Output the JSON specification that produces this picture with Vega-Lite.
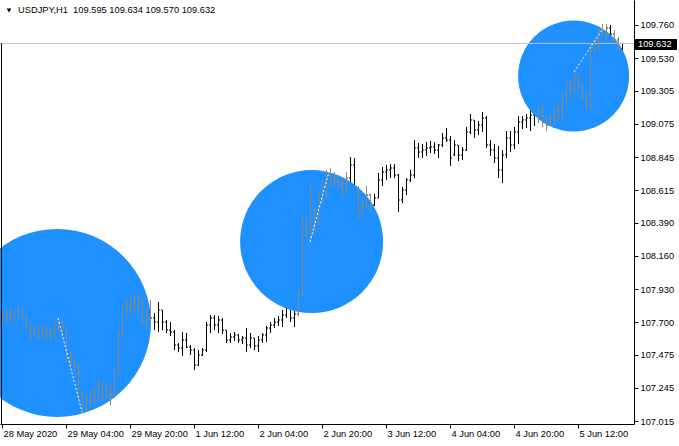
{
  "$schema": "https://vega.github.io/schema/vega-lite/v6.json",
  "width": 634,
  "height": 424,
  "autosize": "none",
  "padding": {"left": 0, "top": 0, "right": 45, "bottom": 22},
  "background": "white",
  "config": {"view": {"stroke": null}, "font": "Liberation Sans",
    "axis": {"labelOverlap": false, "labelSeparation": 0}},
  "datasets": {
    "ohlc": [
      {"i":0,"o":107.715,"h":107.771,"l":107.681,"c":107.750},
      {"i":1,"o":107.750,"h":107.785,"l":107.702,"c":107.729},
      {"i":2,"o":107.729,"h":107.799,"l":107.715,"c":107.771},
      {"i":3,"o":107.771,"h":107.771,"l":107.702,"c":107.729},
      {"i":4,"o":107.729,"h":107.812,"l":107.729,"c":107.785},
      {"i":5,"o":107.785,"h":107.799,"l":107.715,"c":107.729},
      {"i":6,"o":107.729,"h":107.743,"l":107.646,"c":107.660},
      {"i":7,"o":107.660,"h":107.702,"l":107.577,"c":107.611},
      {"i":8,"o":107.611,"h":107.688,"l":107.605,"c":107.646},
      {"i":9,"o":107.646,"h":107.674,"l":107.577,"c":107.605},
      {"i":10,"o":107.605,"h":107.688,"l":107.605,"c":107.660},
      {"i":11,"o":107.660,"h":107.674,"l":107.577,"c":107.611},
      {"i":12,"o":107.611,"h":107.660,"l":107.563,"c":107.625},
      {"i":13,"o":107.625,"h":107.702,"l":107.591,"c":107.681},
      {"i":14,"o":107.681,"h":107.729,"l":107.632,"c":107.702},
      {"i":15,"o":107.702,"h":107.722,"l":107.618,"c":107.646},
      {"i":16,"o":107.646,"h":107.660,"l":107.424,"c":107.452},
      {"i":17,"o":107.452,"h":107.494,"l":107.383,"c":107.424},
      {"i":18,"o":107.424,"h":107.452,"l":107.355,"c":107.397},
      {"i":19,"o":107.397,"h":107.410,"l":107.161,"c":107.196},
      {"i":20,"o":107.196,"h":107.230,"l":107.078,"c":107.126},
      {"i":21,"o":107.126,"h":107.196,"l":107.078,"c":107.161},
      {"i":22,"o":107.161,"h":107.230,"l":107.106,"c":107.196},
      {"i":23,"o":107.196,"h":107.258,"l":107.126,"c":107.216},
      {"i":24,"o":107.216,"h":107.313,"l":107.161,"c":107.265},
      {"i":25,"o":107.265,"h":107.286,"l":107.147,"c":107.175},
      {"i":26,"o":107.175,"h":107.286,"l":107.175,"c":107.244},
      {"i":27,"o":107.244,"h":107.258,"l":107.126,"c":107.196},
      {"i":28,"o":107.196,"h":107.383,"l":107.175,"c":107.355},
      {"i":29,"o":107.355,"h":107.646,"l":107.341,"c":107.611},
      {"i":30,"o":107.611,"h":107.819,"l":107.591,"c":107.785},
      {"i":31,"o":107.785,"h":107.854,"l":107.729,"c":107.819},
      {"i":32,"o":107.819,"h":107.875,"l":107.750,"c":107.854},
      {"i":33,"o":107.854,"h":107.889,"l":107.771,"c":107.799},
      {"i":34,"o":107.799,"h":107.896,"l":107.750,"c":107.854},
      {"i":35,"o":107.854,"h":107.854,"l":107.681,"c":107.715},
      {"i":36,"o":107.715,"h":107.799,"l":107.646,"c":107.750},
      {"i":37,"o":107.750,"h":107.854,"l":107.702,"c":107.729},
      {"i":38,"o":107.729,"h":107.764,"l":107.646,"c":107.702},
      {"i":39,"o":107.702,"h":107.840,"l":107.632,"c":107.785},
      {"i":40,"o":107.785,"h":107.785,"l":107.646,"c":107.702},
      {"i":41,"o":107.702,"h":107.715,"l":107.625,"c":107.646},
      {"i":42,"o":107.646,"h":107.702,"l":107.605,"c":107.632},
      {"i":43,"o":107.632,"h":107.646,"l":107.507,"c":107.542},
      {"i":44,"o":107.542,"h":107.556,"l":107.494,"c":107.521},
      {"i":45,"o":107.521,"h":107.632,"l":107.466,"c":107.577},
      {"i":46,"o":107.577,"h":107.625,"l":107.521,"c":107.528},
      {"i":47,"o":107.528,"h":107.542,"l":107.473,"c":107.507},
      {"i":48,"o":107.507,"h":107.521,"l":107.369,"c":107.404},
      {"i":49,"o":107.404,"h":107.507,"l":107.397,"c":107.473},
      {"i":50,"o":107.473,"h":107.521,"l":107.466,"c":107.507},
      {"i":51,"o":107.507,"h":107.702,"l":107.494,"c":107.681},
      {"i":52,"o":107.681,"h":107.750,"l":107.625,"c":107.729},
      {"i":53,"o":107.729,"h":107.750,"l":107.646,"c":107.681},
      {"i":54,"o":107.681,"h":107.743,"l":107.625,"c":107.715},
      {"i":55,"o":107.715,"h":107.729,"l":107.618,"c":107.646},
      {"i":56,"o":107.646,"h":107.646,"l":107.556,"c":107.577},
      {"i":57,"o":107.577,"h":107.625,"l":107.556,"c":107.598},
      {"i":58,"o":107.598,"h":107.632,"l":107.570,"c":107.611},
      {"i":59,"o":107.611,"h":107.618,"l":107.556,"c":107.577},
      {"i":60,"o":107.577,"h":107.605,"l":107.549,"c":107.591},
      {"i":61,"o":107.591,"h":107.660,"l":107.494,"c":107.542},
      {"i":62,"o":107.542,"h":107.625,"l":107.521,"c":107.591},
      {"i":63,"o":107.591,"h":107.591,"l":107.507,"c":107.535},
      {"i":64,"o":107.535,"h":107.605,"l":107.494,"c":107.577},
      {"i":65,"o":107.577,"h":107.625,"l":107.556,"c":107.611},
      {"i":66,"o":107.611,"h":107.674,"l":107.563,"c":107.660},
      {"i":67,"o":107.660,"h":107.702,"l":107.625,"c":107.681},
      {"i":68,"o":107.681,"h":107.729,"l":107.660,"c":107.702},
      {"i":69,"o":107.702,"h":107.743,"l":107.674,"c":107.715},
      {"i":70,"o":107.715,"h":107.785,"l":107.667,"c":107.750},
      {"i":71,"o":107.750,"h":107.826,"l":107.729,"c":107.799},
      {"i":72,"o":107.799,"h":107.799,"l":107.702,"c":107.729},
      {"i":73,"o":107.729,"h":107.778,"l":107.667,"c":107.757},
      {"i":74,"o":107.757,"h":107.923,"l":107.743,"c":107.889},
      {"i":75,"o":107.889,"h":108.443,"l":107.882,"c":108.374},
      {"i":76,"o":108.374,"h":108.422,"l":108.284,"c":108.325},
      {"i":77,"o":108.325,"h":108.665,"l":108.256,"c":108.582},
      {"i":78,"o":108.478,"h":108.492,"l":108.311,"c":108.374},
      {"i":79,"o":108.374,"h":108.616,"l":108.374,"c":108.547},
      {"i":80,"o":108.547,"h":108.686,"l":108.512,"c":108.651},
      {"i":81,"o":108.651,"h":108.755,"l":108.561,"c":108.720},
      {"i":82,"o":108.720,"h":108.769,"l":108.644,"c":108.699},
      {"i":83,"o":108.699,"h":108.741,"l":108.630,"c":108.672},
      {"i":84,"o":108.672,"h":108.713,"l":108.623,"c":108.651},
      {"i":85,"o":108.651,"h":108.686,"l":108.568,"c":108.616},
      {"i":86,"o":108.616,"h":108.741,"l":108.589,"c":108.699},
      {"i":87,"o":108.699,"h":108.845,"l":108.665,"c":108.790},
      {"i":88,"o":108.790,"h":108.838,"l":108.602,"c":108.630},
      {"i":89,"o":108.630,"h":108.644,"l":108.408,"c":108.464},
      {"i":90,"o":108.464,"h":108.561,"l":108.443,"c":108.512},
      {"i":91,"o":108.512,"h":108.644,"l":108.492,"c":108.582},
      {"i":92,"o":108.582,"h":108.589,"l":108.464,"c":108.512},
      {"i":93,"o":108.512,"h":108.589,"l":108.505,"c":108.561},
      {"i":94,"o":108.561,"h":108.734,"l":108.561,"c":108.686},
      {"i":95,"o":108.686,"h":108.776,"l":108.644,"c":108.741},
      {"i":96,"o":108.741,"h":108.790,"l":108.686,"c":108.755},
      {"i":97,"o":108.755,"h":108.796,"l":108.699,"c":108.769},
      {"i":98,"o":108.769,"h":108.796,"l":108.699,"c":108.720},
      {"i":99,"o":108.720,"h":108.727,"l":108.464,"c":108.547},
      {"i":100,"o":108.547,"h":108.637,"l":108.526,"c":108.616},
      {"i":101,"o":108.616,"h":108.699,"l":108.582,"c":108.686},
      {"i":102,"o":108.686,"h":108.755,"l":108.672,"c":108.720},
      {"i":103,"o":108.720,"h":108.963,"l":108.699,"c":108.907},
      {"i":104,"o":108.907,"h":108.942,"l":108.838,"c":108.880},
      {"i":105,"o":108.880,"h":108.935,"l":108.838,"c":108.893},
      {"i":106,"o":108.893,"h":108.949,"l":108.852,"c":108.907},
      {"i":107,"o":108.907,"h":108.956,"l":108.873,"c":108.914},
      {"i":108,"o":108.914,"h":108.949,"l":108.866,"c":108.893},
      {"i":109,"o":108.893,"h":108.935,"l":108.838,"c":108.928},
      {"i":110,"o":108.928,"h":109.011,"l":108.914,"c":108.977},
      {"i":111,"o":108.977,"h":109.046,"l":108.949,"c":108.963},
      {"i":112,"o":108.963,"h":108.991,"l":108.783,"c":108.838},
      {"i":113,"o":108.859,"h":108.963,"l":108.852,"c":108.928},
      {"i":114,"o":108.928,"h":108.928,"l":108.817,"c":108.859},
      {"i":115,"o":108.859,"h":108.914,"l":108.824,"c":108.893},
      {"i":116,"o":108.893,"h":109.053,"l":108.887,"c":109.018},
      {"i":117,"o":109.018,"h":109.143,"l":109.004,"c":109.101},
      {"i":118,"o":109.101,"h":109.101,"l":108.977,"c":109.032},
      {"i":119,"o":109.032,"h":109.094,"l":108.997,"c":109.067},
      {"i":120,"o":109.067,"h":109.157,"l":109.018,"c":109.115},
      {"i":121,"o":109.115,"h":109.129,"l":108.907,"c":108.928},
      {"i":122,"o":108.928,"h":108.963,"l":108.852,"c":108.893},
      {"i":123,"o":108.893,"h":108.935,"l":108.803,"c":108.838},
      {"i":124,"o":108.838,"h":108.921,"l":108.699,"c":108.755},
      {"i":125,"o":108.755,"h":108.893,"l":108.665,"c":108.859},
      {"i":126,"o":108.859,"h":109.025,"l":108.838,"c":108.977},
      {"i":127,"o":108.977,"h":109.025,"l":108.880,"c":108.928},
      {"i":128,"o":108.928,"h":109.053,"l":108.900,"c":109.018},
      {"i":129,"o":109.018,"h":109.129,"l":108.935,"c":109.088},
      {"i":130,"o":109.088,"h":109.129,"l":109.039,"c":109.101},
      {"i":131,"o":109.101,"h":109.143,"l":109.046,"c":109.115},
      {"i":132,"o":109.115,"h":109.178,"l":109.025,"c":109.136},
      {"i":133,"o":109.136,"h":109.171,"l":109.060,"c":109.157},
      {"i":134,"o":109.157,"h":109.198,"l":109.081,"c":109.171},
      {"i":135,"o":109.171,"h":109.219,"l":109.053,"c":109.088},
      {"i":136,"o":109.088,"h":109.129,"l":109.025,"c":109.067},
      {"i":137,"o":109.067,"h":109.143,"l":109.060,"c":109.115},
      {"i":138,"o":109.115,"h":109.191,"l":109.074,"c":109.171},
      {"i":139,"o":109.171,"h":109.219,"l":109.094,"c":109.185},
      {"i":140,"o":109.185,"h":109.289,"l":109.101,"c":109.268},
      {"i":141,"o":109.268,"h":109.372,"l":109.205,"c":109.323},
      {"i":142,"o":109.323,"h":109.379,"l":109.254,"c":109.309},
      {"i":143,"o":109.309,"h":109.434,"l":109.289,"c":109.392},
      {"i":144,"o":109.392,"h":109.420,"l":109.309,"c":109.344},
      {"i":145,"o":109.344,"h":109.351,"l":109.240,"c":109.268},
      {"i":146,"o":109.268,"h":109.295,"l":109.171,"c":109.205},
      {"i":147,"o":109.205,"h":109.628,"l":109.171,"c":109.586},
      {"i":148,"o":109.586,"h":109.663,"l":109.566,"c":109.642},
      {"i":149,"o":109.642,"h":109.753,"l":109.586,"c":109.725},
      {"i":150,"o":109.725,"h":109.767,"l":109.684,"c":109.711},
      {"i":151,"o":109.711,"h":109.767,"l":109.656,"c":109.739},
      {"i":152,"o":109.739,"h":109.760,"l":109.670,"c":109.697},
      {"i":153,"o":109.697,"h":109.725,"l":109.614,"c":109.656},
      {"i":154,"o":109.656,"h":109.677,"l":109.593,"c":109.595},
      {"i":155,"o":109.595,"h":109.634,"l":109.570,"c":109.632}
    ],
    "zig": [
      {"seg":1,"i":14,"p":107.729},{"seg":1,"i":20,"p":107.078},
      {"seg":2,"i":77,"p":108.256},{"seg":2,"i":82,"p":108.769},
      {"seg":3,"i":143,"p":109.434},{"seg":3,"i":151,"p":109.767}
    ]
  },
  "layer": [
    {
      "data": {"name": "ohlc"},
      "mark": {"type": "rule", "color": "black", "strokeWidth": 1, "xOffset": 0.5},
      "encoding": {
        "x": {"field": "i", "type": "quantitative", "title": null,
          "scale": {"domain": [-0.5, 158], "nice": false, "zero": false},
          "axis": {"orient": "bottom", "values": [0,16,32,48,64,80,96,112,128,144], "tickCount": 30,
            "labelExpr": "['28 May 2020','29 May 04:00','29 May 20:00','1 Jun 12:00','2 Jun 04:00','2 Jun 20:00','3 Jun 12:00','4 Jun 04:00','4 Jun 20:00','5 Jun 12:00'][round(datum.value/16)]",
            "grid": false, "domainColor": "black", "tickColor": "black", "tickSize": 4,
            "labelAlign": "left", "labelBaseline": "top", "labelPadding": 1, "labelOffset": 1,
            "labelFont": "Liberation Sans", "labelFontSize": 9.3, "labelColor": "black",
            "labelFlush": false, "labelOverlap": false, "labelBound": false}},
        "y": {"field": "l", "type": "quantitative", "title": null,
          "scale": {"domain": [106.995, 109.933], "nice": false, "zero": false},
          "axis": {"orient": "right", "tickCount": 30,
            "values": [107.015,107.245,107.475,107.7,107.93,108.16,108.39,108.615,108.845,109.075,109.305,109.53,109.76],
            "format": ".3f", "grid": false, "domainColor": "black", "tickColor": "black", "tickSize": 4,
            "labelAlign": "left", "labelBaseline": "middle", "labelPadding": 2,
            "labelFont": "Liberation Sans", "labelFontSize": 9.3, "labelColor": "black",
            "labelFlush": false, "labelOverlap": false, "labelBound": false}},
        "y2": {"field": "h"}
      }
    },
    {
      "data": {"name": "ohlc"},
      "mark": {"type": "tick", "orient": "horizontal", "size": 1, "thickness": 1, "xOffset": -0.5, "color": "black", "opacity": 1},
      "encoding": {
        "x": {"field": "i", "type": "quantitative", "title": null},
        "y": {"field": "o", "type": "quantitative", "title": null}
      }
    },
    {
      "data": {"name": "ohlc"},
      "mark": {"type": "tick", "orient": "horizontal", "size": 1, "thickness": 1, "xOffset": 1.5, "color": "black", "opacity": 1},
      "encoding": {
        "x": {"field": "i", "type": "quantitative", "title": null},
        "y": {"field": "c", "type": "quantitative", "title": null}
      }
    },
    {
      "data": {"values": [{"i": 13.75, "p": 107.695}]},
      "mark": {"type": "circle", "color": "#1E90FF", "opacity": 1, "size": 35344},
      "encoding": {
        "x": {"field": "i", "type": "quantitative", "title": null},
        "y": {"field": "p", "type": "quantitative", "title": null}
      }
    },
    {
      "data": {"values": [{"i": 77.4, "p": 108.259}]},
      "mark": {"type": "circle", "color": "#1E90FF", "opacity": 1, "size": 20449},
      "encoding": {
        "x": {"field": "i", "type": "quantitative", "title": null},
        "y": {"field": "p", "type": "quantitative", "title": null}
      }
    },
    {
      "data": {"values": [{"i": 142.9, "p": 109.406}]},
      "mark": {"type": "circle", "color": "#1E90FF", "opacity": 1, "size": 12321},
      "encoding": {
        "x": {"field": "i", "type": "quantitative", "title": null},
        "y": {"field": "p", "type": "quantitative", "title": null}
      }
    },
    {
      "data": {"values": [{}]},
      "mark": {"type": "rule", "color": "#C0C0C0", "strokeWidth": 1},
      "encoding": {"y": {"datum": 109.632, "type": "quantitative"}}
    },
    {
      "data": {"name": "ohlc"},
      "transform": [{"filter": "pow((datum.i-13.75)*4,2)+pow(((datum.h+datum.l)/2-107.695)*144.3,2) < 8836 || pow((datum.i-77.4)*4,2)+pow(((datum.h+datum.l)/2-108.259)*144.3,2) < 5112 || pow((datum.i-142.9)*4,2)+pow(((datum.h+datum.l)/2-109.406)*144.3,2) < 3080"}],
      "layer": [
        {
          "mark": {"type": "rule", "color": "#8A8A78", "strokeWidth": 1, "xOffset": 0.5},
          "encoding": {
            "x": {"field": "i", "type": "quantitative", "title": null},
            "y": {"field": "l", "type": "quantitative", "title": null},
            "y2": {"field": "h"}
          }
        },
        {
          "mark": {"type": "tick", "orient": "horizontal", "size": 1, "thickness": 1, "xOffset": -0.5, "color": "#8A8A78", "opacity": 1},
          "encoding": {
            "x": {"field": "i", "type": "quantitative", "title": null},
            "y": {"field": "o", "type": "quantitative", "title": null}
          }
        },
        {
          "mark": {"type": "tick", "orient": "horizontal", "size": 1, "thickness": 1, "xOffset": 1.5, "color": "#8A8A78", "opacity": 1},
          "encoding": {
            "x": {"field": "i", "type": "quantitative", "title": null},
            "y": {"field": "c", "type": "quantitative", "title": null}
          }
        }
      ]
    },
    {
      "data": {"name": "zig"},
      "mark": {"type": "line", "color": "white", "strokeWidth": 1, "strokeDash": [2, 2]},
      "encoding": {
        "x": {"field": "i", "type": "quantitative", "title": null},
        "y": {"field": "p", "type": "quantitative", "title": null},
        "detail": {"field": "seg", "type": "nominal"}
      }
    },
    {
      "data": {"values": [{}]},
      "mark": {"type": "rule", "color": "black", "strokeWidth": 1, "xOffset": 0.5},
      "encoding": {
        "x": {"datum": -0.25, "type": "quantitative"},
        "y": {"datum": 109.632, "type": "quantitative"},
        "y2": {"datum": 106.995}
      }
    },
    {
      "data": {"values": [{}]},
      "mark": {"type": "point", "shape": "triangle-down", "filled": true, "color": "black", "opacity": 1, "size": 22, "xOffset": 9, "yOffset": 10.5},
      "encoding": {
        "x": {"datum": -0.5, "type": "quantitative"},
        "y": {"datum": 109.933, "type": "quantitative"}
      }
    },
    {
      "data": {"values": [{}]},
      "mark": {"type": "text", "align": "left", "baseline": "middle", "font": "Liberation Sans", "fontSize": 9.3, "color": "black", "xOffset": 18, "yOffset": 10},
      "encoding": {
        "x": {"datum": -0.5, "type": "quantitative"},
        "y": {"datum": 109.933, "type": "quantitative"},
        "text": {"value": "USDJPY,H1\u00a0\u00a0109.595 109.634 109.570 109.632"}
      }
    },
    {
      "data": {"values": [{}]},
      "mark": {"type": "point", "shape": "M-1,-0.262H1V0.262H-1Z", "filled": true, "color": "black", "opacity": 1, "size": 1764, "xOffset": 22, "yOffset": 1},
      "encoding": {
        "x": {"datum": 158, "type": "quantitative"},
        "y": {"datum": 109.632, "type": "quantitative"}
      }
    },
    {
      "data": {"values": [{}]},
      "mark": {"type": "text", "align": "left", "baseline": "middle", "font": "Liberation Sans", "fontSize": 9.3, "color": "white", "xOffset": 4, "yOffset": 1},
      "encoding": {
        "x": {"datum": 158, "type": "quantitative"},
        "y": {"datum": 109.632, "type": "quantitative"},
        "text": {"value": "109.632"}
      }
    }
  ]
}
